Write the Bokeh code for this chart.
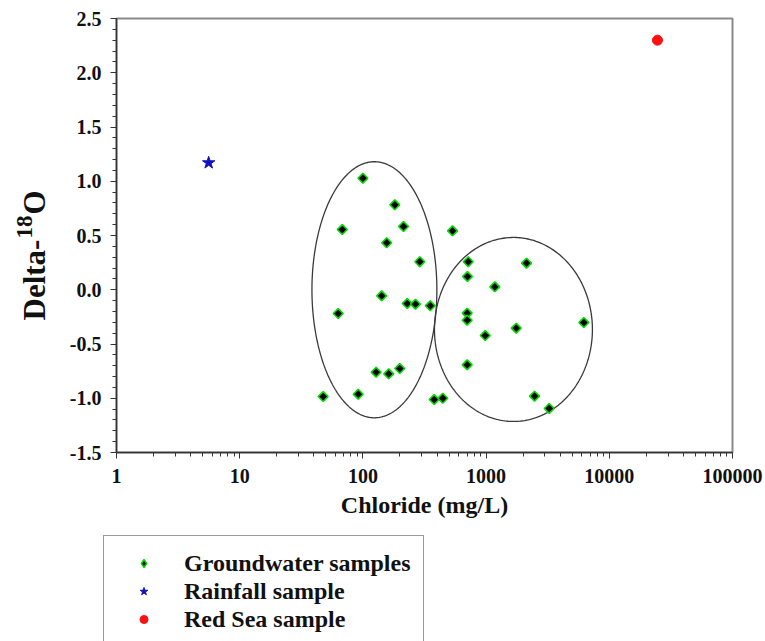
import numpy as np
from bokeh.plotting import figure
from bokeh.layouts import row, column
from bokeh.models import (Range1d, FixedTicker, SingleIntervalTicker, Legend, LegendItem,
                          Label, PrintfTickFormatter)
from bokeh.embed import file_html
from bokeh.resources import INLINE

# ---------------- data ----------------
gw_chloride = [47.6, 68, 63, 100, 91.6, 181.5, 213.6, 156, 289.5, 142, 229, 267, 352,
               128, 162, 199, 379, 445, 534, 716, 706, 702, 702, 702, 1177, 984,
               1755, 2128, 2472, 3252, 6210]
gw_delta18o = [-0.984, 0.555, -0.219, 1.028, -0.963, 0.783, 0.583, 0.433, 0.258, -0.056,
               -0.127, -0.133, -0.148, -0.76, -0.775, -0.726, -1.012, -1.0, 0.543, 0.258,
               0.122, -0.216, -0.281, -0.692, 0.027, -0.422, -0.354, 0.245, -0.981,
               -1.094, -0.302]
rain_chloride = [5.6]
rain_delta18o = [1.17]
sea_chloride = [24600]
sea_delta18o = [2.3]

# ellipses drawn around the two groups: centre (chloride, delta), half-widths (decades, delta units)
ellipse_centres = [(124, 0.0), (1667, -0.366)]
ellipse_radii = [(0.507, 1.18), (0.641, 0.848)]

x_ticks = [1, 10, 100, 1000, 10000, 100000]
x_tick_labels = ["1", "10", "100", "1000", "10000", "100000"]
x_minor = [m * 10 ** k for k in range(5) for m in range(2, 10)]

legend_labels = ["Groundwater samples", "Rainfall sample", "Red Sea sample"]
x_title = "Chloride (mg/L)"
y_title_parts = ["Delta-", "18", "O"]

FONT = "Liberation Serif"
TXT = "#111111"

GW_STYLE = dict(marker="square", angle=np.pi / 4, size=7, fill_color="#000000",
                line_color="#00dd00", line_width=1.6)
RAIN_STYLE = dict(marker="star", size=13, fill_color="#1010c0", line_color="#1010c0")
SEA_STYLE = dict(marker="circle", size=10, fill_color="#ff1010", line_color="#ff1010")

LEFT_W = 62
TOP_H = 534
FRAME_BOTTOM = 452

# ---------------- main plot ----------------
p = figure(width=765 - LEFT_W, height=TOP_H, x_axis_type="log",
           x_range=Range1d(1, 100000), y_range=Range1d(-1.5, 2.5),
           output_backend="svg", toolbar_location=None,
           min_border_left=116 - LEFT_W, min_border_right=33,
           min_border_top=18, min_border_bottom=TOP_H - FRAME_BOTTOM)
p.grid.visible = False
p.outline_line_color = "#8a8a8a"
p.outline_line_width = 2

t = np.linspace(0, 2 * np.pi, 300)
for (cx, cy), (rx, ry) in zip(ellipse_centres, ellipse_radii):
    xs = 10 ** (np.log10(cx) + rx * np.cos(t))
    ys = cy + ry * np.sin(t)
    p.line(xs, ys, line_color="#3a3a3a", line_width=1.3)

p.scatter(gw_chloride, gw_delta18o, **GW_STYLE)
p.scatter(rain_chloride, rain_delta18o, **RAIN_STYLE)
p.scatter(sea_chloride, sea_delta18o, **SEA_STYLE)

xa = p.xaxis[0]
xa.ticker = FixedTicker(ticks=x_ticks, minor_ticks=x_minor)
xa.major_label_overrides = {t_: l for t_, l in zip(x_ticks, x_tick_labels)}
xa.axis_label = x_title
ya = p.yaxis[0]
ya.ticker = SingleIntervalTicker(interval=0.5, num_minor_ticks=5)
ya.formatter = PrintfTickFormatter(format="%.1f")

for ax in (xa, ya):
    ax.axis_line_color = "#333333"
    ax.axis_line_width = 1.5
    ax.major_tick_line_color = "#333333"
    ax.minor_tick_line_color = "#333333"
    ax.major_tick_out = 6
    ax.major_tick_in = 0
    ax.minor_tick_out = 4
    ax.minor_tick_in = 0
    ax.major_label_text_font = FONT
    ax.major_label_text_font_style = "bold"
    ax.major_label_text_font_size = "20px"
    ax.major_label_text_color = TXT
    ax.axis_label_text_font = FONT
    ax.axis_label_text_font_style = "bold"
    ax.axis_label_text_font_size = "24px"
    ax.axis_label_text_color = TXT
xa.major_label_standoff = 10
xa.axis_label_standoff = 6
ya.major_label_standoff = 9

# ---------------- y-axis title (with superscript) ----------------
# this figure's frame is aligned with the main frame (page y 18..452) by the row layout
pt = figure(width=LEFT_W, height=TOP_H, x_range=Range1d(0, 1), y_range=Range1d(0, 1),
            output_backend="svg", toolbar_location=None,
            x_axis_location=None, y_axis_location=None, min_border=0)
pt.grid.visible = False
pt.outline_line_color = None
common = dict(x_units="screen", y_units="screen", angle=np.pi / 2, text_font=FONT,
              text_font_style="bold", text_color=TXT, text_baseline="middle",
              text_align="left")
pt.add_layout(Label(x=34, y=FRAME_BOTTOM - 320, text=y_title_parts[0], text_font_size="31px", **common))
pt.add_layout(Label(x=24, y=FRAME_BOTTOM - 238, text=y_title_parts[1], text_font_size="23px", **common))
pt.add_layout(Label(x=34, y=FRAME_BOTTOM - 214, text=y_title_parts[2], text_font_size="31px", **common))

# ---------------- legend (below the chart, cut by the window edge) ----------------
pl = figure(width=765, height=641 - TOP_H, x_range=Range1d(0, 1), y_range=Range1d(0, 1),
            output_backend="svg", toolbar_location=None,
            x_axis_location=None, y_axis_location=None,
            min_border_left=102, min_border_right=0, min_border_top=0, min_border_bottom=0)
pl.grid.visible = False
pl.outline_line_color = None
# placeholder glyphs outside the visible range, used only as legend keys
r1 = pl.scatter([-10], [-10], marker="diamond", size=11, fill_color="#000000",
                line_color="#00dd00", line_width=1.4)
r2 = pl.scatter([-10], [-10], marker="star", size=12, fill_color="#1010c0", line_color="#1010c0")
r3 = pl.scatter([-10], [-10], marker="circle", size=12, fill_color="#ff1010", line_color="#ff1010")
legend = Legend(items=[LegendItem(label=legend_labels[0], renderers=[r1]),
                       LegendItem(label=legend_labels[1], renderers=[r2]),
                       LegendItem(label=legend_labels[2], renderers=[r3])],
                location="top_left", margin=1, padding=13, spacing=0,
                glyph_width=53, glyph_height=20, label_height=28, label_standoff=14,
                label_text_font=FONT, label_text_font_style="bold",
                label_text_font_size="24px", label_text_color=TXT,
                border_line_color="#333333", border_line_width=1.5,
                background_fill_alpha=1.0)
pl.add_layout(legend, "center")

layout = column(row(pt, p, spacing=0), pl, spacing=0)
open("out.html", "w").write(file_html(layout, INLINE))
